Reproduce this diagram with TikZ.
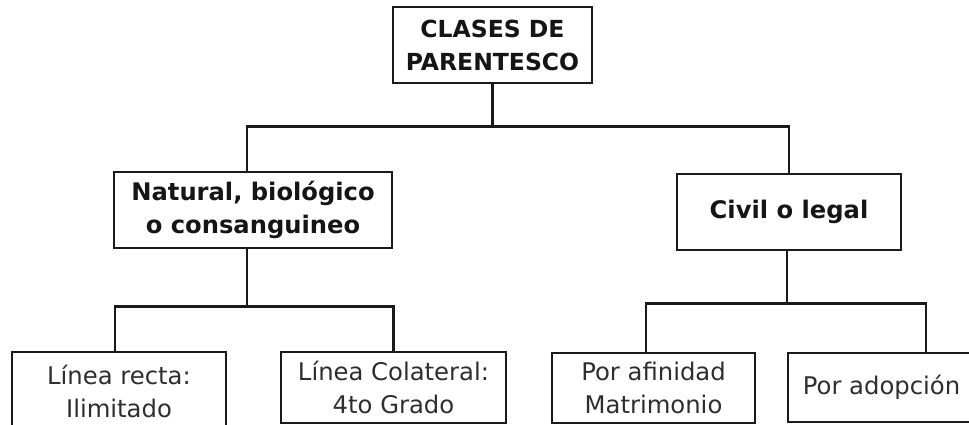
\documentclass[tikz,border=0pt]{standalone}
\usepackage{fontspec}
\setmainfont{DejaVu Sans}
\usepackage{xcolor}
\usepackage{tikz}
\definecolor{linec}{HTML}{1A1A1A}
\definecolor{textb}{HTML}{151515}
\definecolor{textg}{HTML}{2E2E2E}

\begin{document}
\begin{tikzpicture}[x=1pt,y=-1pt,
	box/.style={draw=linec,line width=2.8pt,align=center,inner sep=0pt,fill=white},
	bold/.style={font=\fontsize{24.2}{33}\selectfont\bfseries,text=textb},
	plain/.style={font=\fontsize{24.3}{33}\selectfont,text=textg},
	line/.style={draw=linec,line width=2.5pt,line join=miter}]
	\newcommand\dA{42}
	\newcommand\dB{57}
	\newcommand\dC{52}

	\clip (0,0) rectangle (969,425);
	\fill[white] (0,0) rectangle (969,425);

	\node[box,bold,font=\fontsize{23.5}{33}\selectfont\bfseries,minimum width=199pt,minimum height=76pt] (top) at (492.5,45) {CLASES DE\\PARENTESCO};

	\node[box,bold,minimum width=278pt,minimum height=76pt] (nat) at (253,210) {Natural, biológico\\o consanguineo};
	\node[box,bold,minimum width=224pt,minimum height=76pt] (civ) at (789,212) {Civil o legal};

	\node[box,plain,minimum width=214pt,minimum height=78pt] (b1) at (119,391) {Línea recta:\\Ilimitado};
	\node[box,plain,minimum width=225pt,minimum height=71pt] (b2) at (393.5,387.5) {Línea Colateral:\\4to Grado};
	\node[box,plain,minimum width=203pt,minimum height=70pt] (b3) at (653.5,388) {Por afinidad\\Matrimonio};
	\node[box,plain,minimum width=187pt,minimum height=69pt] (b4) at (881.5,387.5) {Por adopción};

	\draw[line] (top.south) -- ++(0,\dA) coordinate (jA);
	\draw[line] ([xshift=-6pt]nat.north) |- (jA) -| (civ.north);

	\draw[line] ([xshift=-6pt]nat.south) -- ++(0,\dB) coordinate (jB);
	\draw[line] ([xshift=-4pt]b1.north) |- (jB) -| (b2.north);

	\draw[line] ([xshift=-2pt]civ.south) -- ++(0,\dC) coordinate (jC);
	\draw[line] ([xshift=-7.5pt]b3.north) |- (jC) -| ([xshift=44.5pt]b4.north);
\end{tikzpicture}
\end{document}
